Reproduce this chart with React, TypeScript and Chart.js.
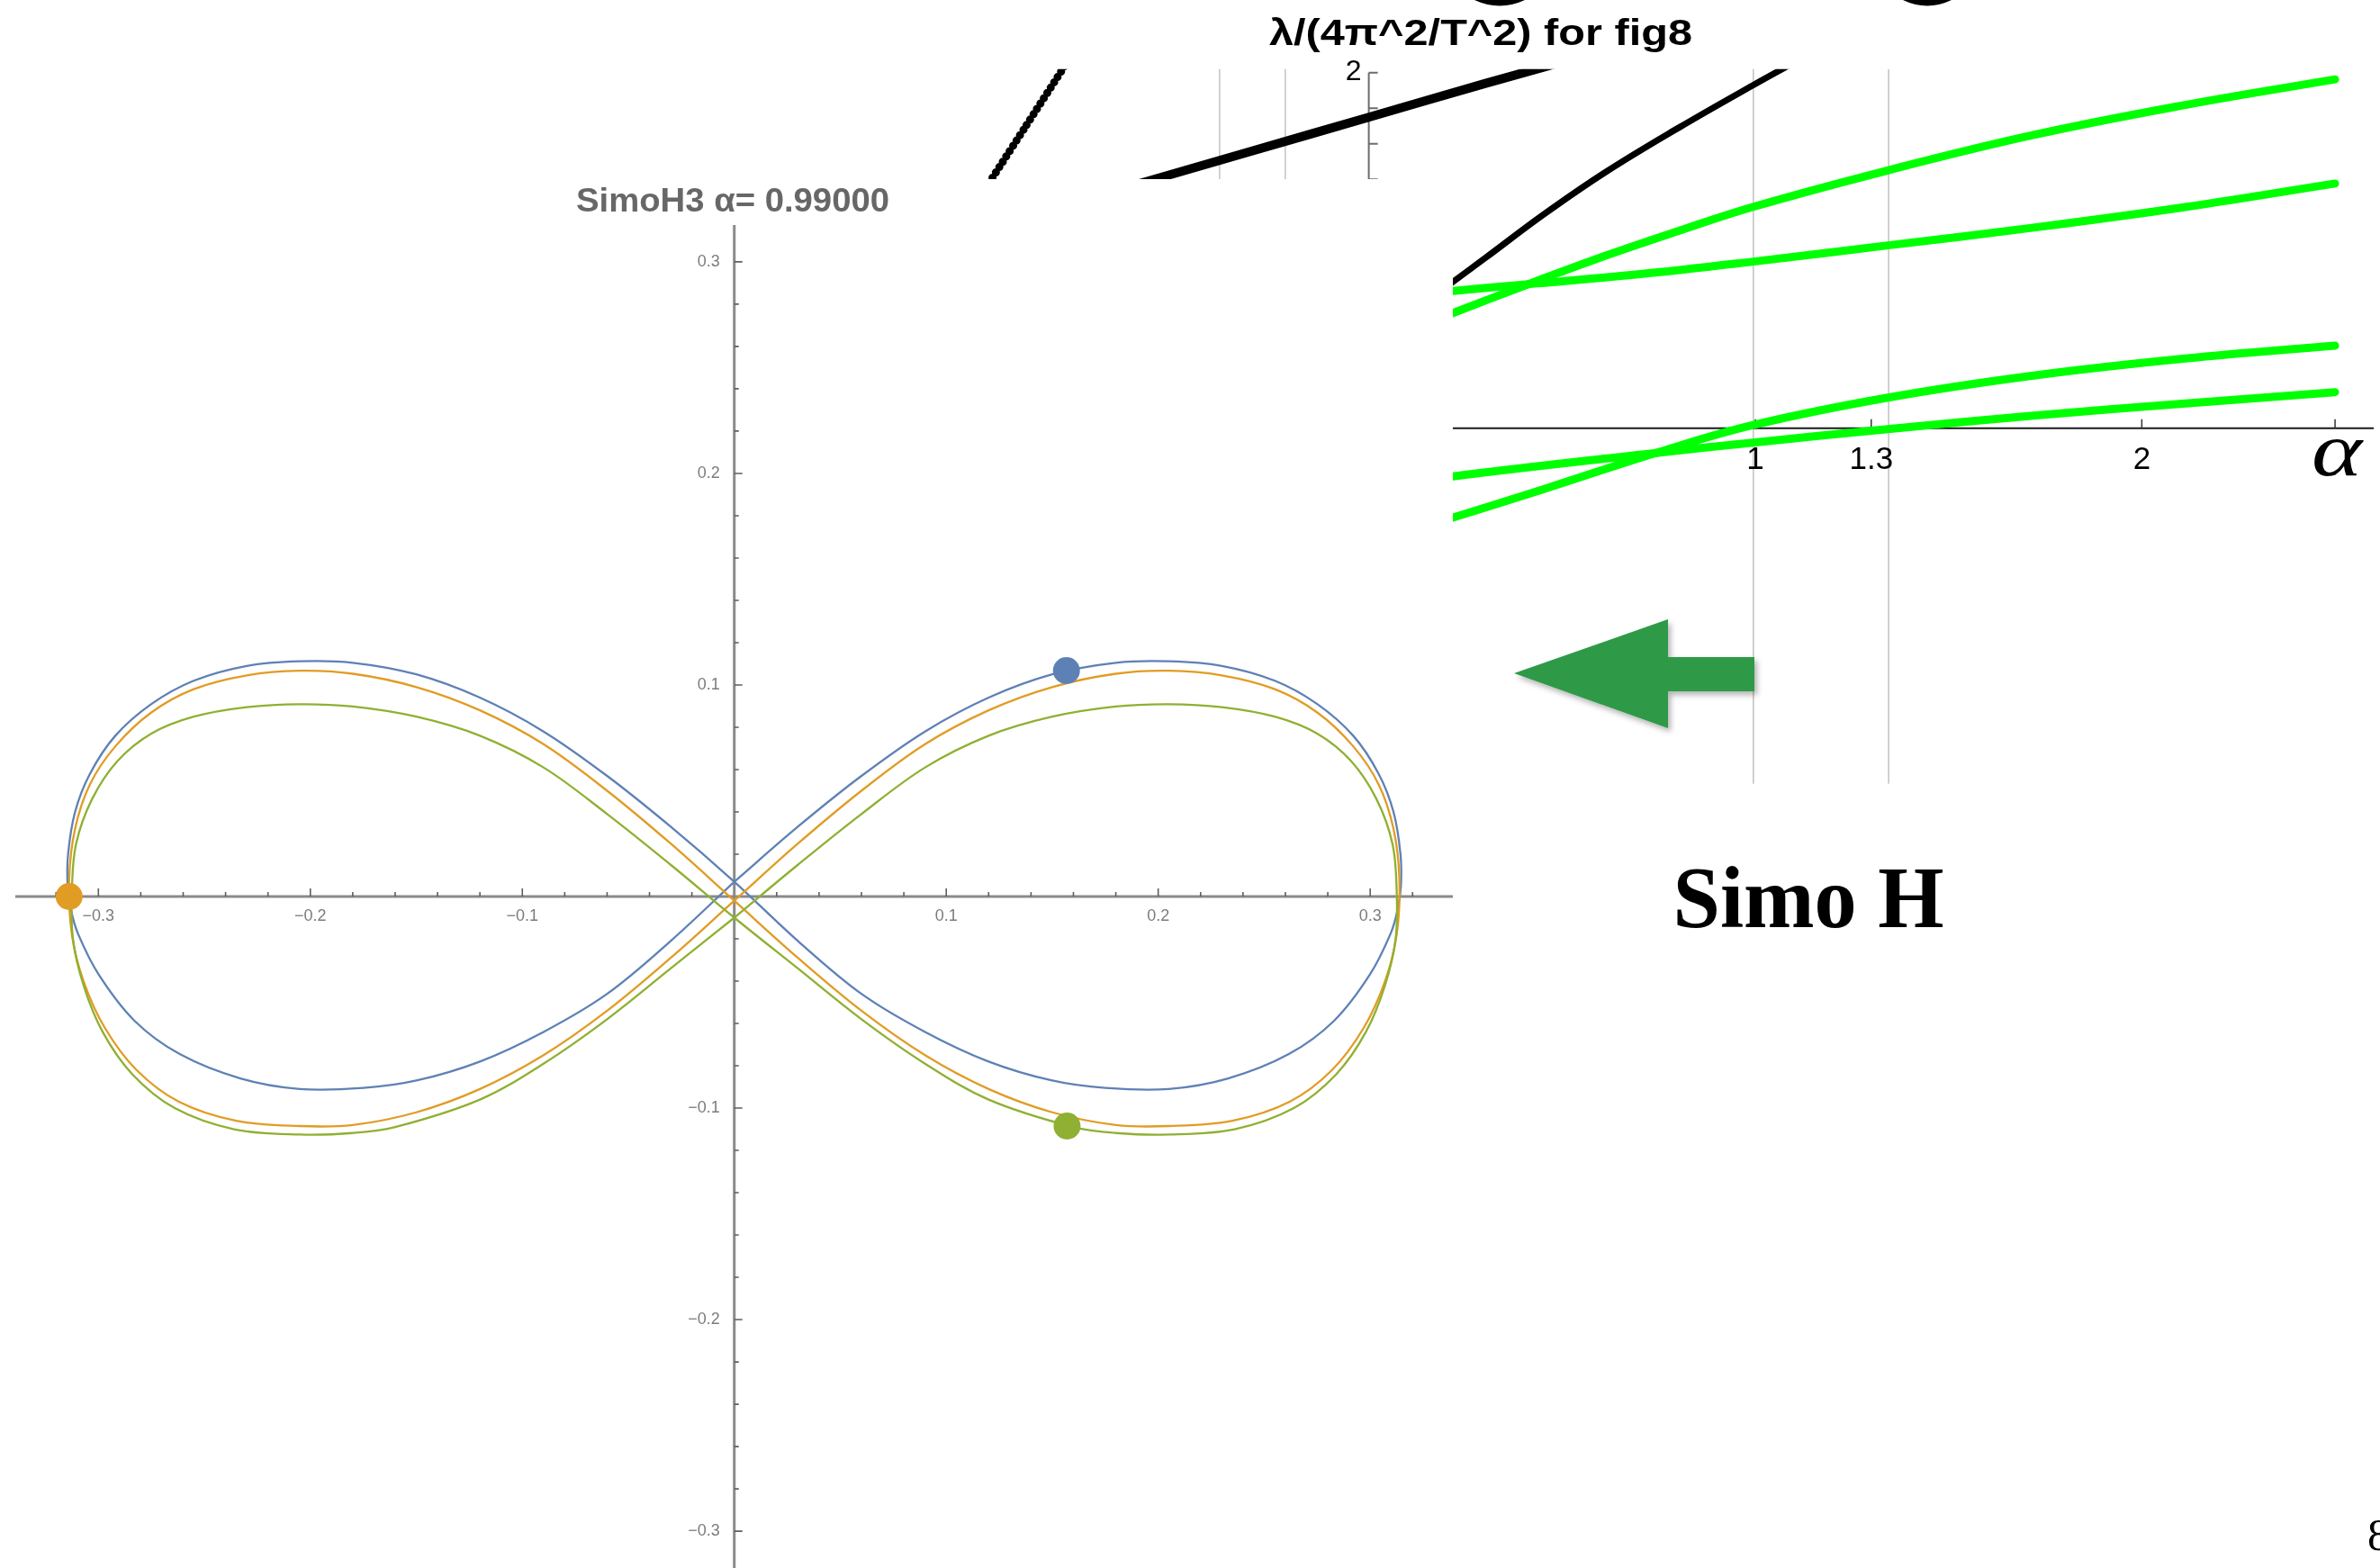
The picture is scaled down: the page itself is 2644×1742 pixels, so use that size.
import React, { useEffect, useRef } from "react";
import { Chart, registerables } from "chart.js";

Chart.register(...registerables);

type Pt = [number, number];

// ---------- SimoH3 figure-eight, α = 0.99 ----------
// Each track: upper-right branch, lower-right, upper-left, lower-left (closed loop)
const blueTrack: Pt[] = [
  [0, 0.007], [0.03, 0.033], [0.06, 0.057], [0.09, 0.078], [0.12, 0.094], [0.15, 0.105],
  [0.18, 0.1105], [0.205, 0.1112], [0.23, 0.109], [0.255, 0.102], [0.275, 0.091],
  [0.292, 0.076], [0.304, 0.058], [0.311, 0.04], [0.3143, 0.02], [0.3145, 0.005],
  [0.313, -0.006], [0.3097, -0.0174], [0.2998, -0.037], [0.283, -0.0587], [0.2616, -0.0745],
  [0.233, -0.086], [0.205, -0.091], [0.175, -0.0905], [0.15, -0.087], [0.12, -0.078],
  [0.09, -0.064], [0.06, -0.046], [0.03, -0.021], [0, 0.007],
  [-0.03, 0.033], [-0.06, 0.057], [-0.09, 0.078], [-0.12, 0.094], [-0.15, 0.105],
  [-0.18, 0.1105], [-0.205, 0.1112], [-0.23, 0.109], [-0.255, 0.102], [-0.275, 0.091],
  [-0.292, 0.076], [-0.304, 0.058], [-0.311, 0.04], [-0.3143, 0.02], [-0.3145, 0.005],
  [-0.313, -0.006], [-0.3097, -0.0174], [-0.2998, -0.037], [-0.283, -0.0587], [-0.2616, -0.0745],
  [-0.233, -0.086], [-0.205, -0.091], [-0.175, -0.0905], [-0.15, -0.087], [-0.12, -0.078],
  [-0.09, -0.064], [-0.06, -0.046], [-0.03, -0.021], [0, 0.007],
];

const orangeTrack: Pt[] = [
  [0, -0.002], [0.03, 0.025], [0.06, 0.05], [0.09, 0.072], [0.12, 0.088], [0.15, 0.099],
  [0.18, 0.1053], [0.205, 0.1067], [0.23, 0.1045], [0.255, 0.098], [0.275, 0.087],
  [0.292, 0.071], [0.304, 0.053], [0.311, 0.032], [0.3138, 0.008],
  [0.3125, -0.018], [0.307, -0.04], [0.297, -0.062], [0.282, -0.082], [0.262, -0.097],
  [0.235, -0.106], [0.205, -0.1085], [0.18, -0.108], [0.15, -0.102], [0.12, -0.091],
  [0.09, -0.075], [0.06, -0.054], [0.03, -0.029], [0, -0.002],
  [-0.03, 0.025], [-0.06, 0.05], [-0.09, 0.072], [-0.12, 0.088], [-0.15, 0.099],
  [-0.18, 0.1053], [-0.205, 0.1067], [-0.23, 0.1045], [-0.255, 0.098], [-0.275, 0.087],
  [-0.292, 0.071], [-0.304, 0.053], [-0.311, 0.032], [-0.3138, 0.008],
  [-0.3125, -0.018], [-0.307, -0.04], [-0.297, -0.062], [-0.282, -0.082], [-0.262, -0.097],
  [-0.235, -0.106], [-0.205, -0.1085], [-0.18, -0.108], [-0.15, -0.102], [-0.12, -0.091],
  [-0.09, -0.075], [-0.06, -0.054], [-0.03, -0.029], [0, -0.002],
];

const greenTrack: Pt[] = [
  [0, -0.01], [0.03, 0.015], [0.06, 0.039], [0.09, 0.061], [0.12, 0.076], [0.15, 0.085],
  [0.18, 0.0898], [0.205, 0.0909], [0.23, 0.0895], [0.255, 0.085], [0.275, 0.077],
  [0.291, 0.064], [0.303, 0.046], [0.3105, 0.025], [0.3125, 0.003],
  [0.312, -0.02], [0.307, -0.042], [0.298, -0.064], [0.284, -0.084], [0.264, -0.1],
  [0.236, -0.11], [0.205, -0.1125], [0.18, -0.1118], [0.16, -0.109], [0.12, -0.096],
  [0.09, -0.079], [0.06, -0.058], [0.03, -0.034], [0, -0.01],
  [-0.03, 0.015], [-0.06, 0.039], [-0.09, 0.061], [-0.12, 0.076], [-0.15, 0.085],
  [-0.18, 0.0898], [-0.205, 0.0909], [-0.23, 0.0895], [-0.255, 0.085], [-0.275, 0.077],
  [-0.291, 0.064], [-0.303, 0.046], [-0.3105, 0.025], [-0.3125, 0.003],
  [-0.312, -0.02], [-0.307, -0.042], [-0.298, -0.064], [-0.284, -0.084], [-0.264, -0.1],
  [-0.236, -0.11], [-0.205, -0.1125], [-0.18, -0.1118], [-0.16, -0.109], [-0.12, -0.096],
  [-0.09, -0.079], [-0.06, -0.058], [-0.03, -0.034], [0, -0.01],
];

const blueBody: Pt = [0.1567, 0.1068];
const orangeBody: Pt = [-0.3138, 0];
const greenBody: Pt = [0.157, -0.1085];

const orbitTickValues = [-0.3, -0.2, -0.1, 0.1, 0.2, 0.3];
const orbitTickLabels = ["−0.3", "−0.2", "−0.1", "0.1", "0.2", "0.3"];
const orbitMinorStep = 0.02;
const orbitTitle = "SimoH3 α= 0.99000";

// ---------- λ/(4π²/T²) branches against α ----------
const lambdaA: Pt[] = [
  [0.15, 0.59], [0.218, 0.648], [0.407, 0.805], [0.584, 0.948], [0.8, 1.108], [0.995, 1.245],
  [1.343, 1.45], [1.72, 1.649], [2.113, 1.818], [2.5, 1.962],
];
const lambdaB: Pt[] = [
  [0.15, 0.76], [0.218, 0.772], [0.407, 0.809], [0.691, 0.864], [0.995, 0.937],
  [1.343, 1.028], [1.72, 1.128], [2.113, 1.244], [2.5, 1.376],
];
const lambdaC: Pt[] = [
  [0.15, -0.55], [0.218, -0.503], [0.454, -0.342], [0.754, -0.132], [0.995, 0.018],
  [1.343, 0.172], [1.72, 0.296], [2.113, 0.392], [2.5, 0.464],
];
const lambdaD: Pt[] = [
  [0.15, -0.3], [0.218, -0.271], [0.754, -0.137], [0.995, -0.081], [1.343, -0.005],
  [1.72, 0.071], [2.113, 0.139], [2.5, 0.2025],
];
const lambdaBlack: Pt[] = [
  [0.15, 0.71], [0.2173, 0.822], [0.3, 0.955], [0.4544, 1.205], [0.6125, 1.44],
  [0.802, 1.69], [0.995, 1.93], [1.12, 2.08],
];
const lambdaBlackWide: Pt[] = [
  [-0.65, 1.34], [-0.3, 1.56], [0, 1.749], [0.3, 1.938], [0.6, 2.12],
];
const lambdaDotted: Pt[] = [
  [-1.0, 1.32], [-0.89, 1.69], [-0.78, 2.06],
];

const lambdaGridAlpha = [-0.386, -0.216, 0.995, 1.345];
const lambdaXTicks = [1, 1.3, 2, 2.5];
const lambdaXLabels = ["1", "1.3", "2", "..."];
const lambdaYTicks = [2, 1.8, 1.6, 1.4, 1.2];
const lambdaYLabels = ["2", "", "", "", ""];
const lambdaTitle = "λ/(4π^2/T^2) for fig8";

const SANS = '"Liberation Sans", Arial, Helvetica, sans-serif';
const SERIF = '"Liberation Serif", "Times New Roman", serif';

const toXY = (pts: Pt[]) => pts.map(([x, y]) => ({ x, y }));

function fitText(ctx: CanvasRenderingContext2D, text: string, cx: number, baseline: number, width: number) {
  const w = ctx.measureText(text).width;
  ctx.save();
  ctx.translate(cx, baseline);
  ctx.scale(width / w, 1);
  ctx.textAlign = "center";
  ctx.textBaseline = "alphabetic";
  ctx.fillText(text, 0, 0);
  ctx.restore();
}

const orbitDecor = {
  id: "orbitDecor",
  beforeDraw(chart: any) {
    const { ctx, width, height } = chart;
    ctx.save();
    ctx.fillStyle = "#ffffff";
    ctx.fillRect(0, 0, width, height);
    ctx.restore();
  },
  beforeDatasetsDraw(chart: any) {
    const { ctx, chartArea: a, scales } = chart;
    const xs = scales.x;
    const ys = scales.y;
    const x0 = xs.getPixelForValue(0);
    const y0 = ys.getPixelForValue(0);
    ctx.save();
    // axes
    ctx.strokeStyle = "#8a8a8a";
    ctx.lineWidth = 3;
    ctx.beginPath();
    ctx.moveTo(a.left, y0);
    ctx.lineTo(a.right, y0);
    ctx.moveTo(x0, a.top);
    ctx.lineTo(x0, a.bottom);
    ctx.stroke();
    // ticks (pointing inwards)
    ctx.strokeStyle = "#5f5f5f";
    ctx.lineWidth = 1.6;
    ctx.beginPath();
    for (let i = -16; i <= 16; i++) {
      if (i === 0) continue;
      const v = i * orbitMinorStep;
      const len = i % 5 === 0 ? 9 : 5;
      const px = xs.getPixelForValue(v);
      if (px >= a.left && px <= a.right) {
        ctx.moveTo(px, y0);
        ctx.lineTo(px, y0 - len);
      }
      const py = ys.getPixelForValue(v);
      if (py >= a.top && py <= a.bottom) {
        ctx.moveTo(x0, py);
        ctx.lineTo(x0 + len, py);
      }
    }
    ctx.stroke();
    // tick labels
    ctx.fillStyle = "#7c7c7c";
    ctx.font = `18px ${SANS}`;
    ctx.textBaseline = "middle";
    ctx.textAlign = "center";
    orbitTickValues.forEach((v, i) => {
      ctx.fillText(orbitTickLabels[i], xs.getPixelForValue(v), y0 + 22);
    });
    ctx.textAlign = "right";
    orbitTickValues.forEach((v, i) => {
      ctx.fillText(orbitTickLabels[i], x0 - 16, ys.getPixelForValue(v));
    });
    ctx.restore();
  },
  afterDraw(chart: any) {
    const { ctx } = chart;
    ctx.save();
    ctx.fillStyle = "#676767";
    ctx.font = `bold 36px ${SANS}`;
    fitText(ctx, orbitTitle, 814, 36, 348);
    ctx.restore();
  },
};

const lambdaDecor = {
  id: "lambdaDecor",
  beforeDatasetsDraw(chart: any) {
    const { ctx, chartArea: a, scales } = chart;
    const xs = scales.x;
    const ys = scales.y;
    ctx.save();
    // vertical grid lines
    ctx.strokeStyle = "#c2c2c2";
    ctx.lineWidth = 1.5;
    ctx.beginPath();
    lambdaGridAlpha.forEach((v) => {
      const px = xs.getPixelForValue(v);
      ctx.moveTo(px, a.top);
      ctx.lineTo(px, a.bottom);
    });
    ctx.stroke();
    // vertical axis at α = 0
    const ax = xs.getPixelForValue(0);
    ctx.strokeStyle = "#6c6c6c";
    ctx.lineWidth = 2;
    ctx.beginPath();
    ctx.moveTo(ax, ys.getPixelForValue(lambdaYTicks[0]));
    ctx.lineTo(ax, a.bottom);
    lambdaYTicks.forEach((v) => {
      const py = ys.getPixelForValue(v);
      ctx.moveTo(ax, py);
      ctx.lineTo(ax + 10, py);
    });
    ctx.stroke();
    ctx.fillStyle = "#000";
    ctx.font = `32px ${SANS}`;
    ctx.textAlign = "right";
    ctx.textBaseline = "middle";
    lambdaYTicks.forEach((v, i) => {
      if (lambdaYLabels[i]) ctx.fillText(lambdaYLabels[i], ax - 8, ys.getPixelForValue(v));
    });
    // horizontal axis
    const ay = ys.getPixelForValue(0);
    ctx.strokeStyle = "#1a1a1a";
    ctx.lineWidth = 2;
    ctx.beginPath();
    ctx.moveTo(a.left, ay);
    ctx.lineTo(a.right, ay);
    ctx.stroke();
    ctx.strokeStyle = "#333";
    ctx.lineWidth = 1.5;
    ctx.beginPath();
    lambdaXTicks.forEach((v) => {
      const px = xs.getPixelForValue(v);
      ctx.moveTo(px, ay);
      ctx.lineTo(px, ay - 10);
    });
    ctx.stroke();
    ctx.textAlign = "center";
    ctx.textBaseline = "alphabetic";
    lambdaXTicks.forEach((v, i) => {
      const label = lambdaXLabels[i];
      const px = xs.getPixelForValue(v);
      if (label === "...") {
        ctx.font = `20px ${SANS}`;
        ctx.fillStyle = "#333";
        ctx.fillText(label, px - 6, ay + 52);
      } else {
        ctx.font = `35px ${SANS}`;
        ctx.fillStyle = "#000";
        ctx.fillText(label, px, ay + 45);
      }
    });
    // axis label α
    ctx.fillStyle = "#000";
    ctx.font = `italic 84px ${SERIF}`;
    fitText(ctx, "α", xs.getPixelForValue(2.5) + 2, ay + 52, 56);
    ctx.restore();
  },
  afterDraw(chart: any) {
    const { ctx } = chart;
    ctx.save();
    ctx.fillStyle = "#000";
    ctx.font = `bold 40px ${SANS}`;
    fitText(ctx, lambdaTitle, 645, 50, 470);
    ctx.restore();
  },
};

export default function App() {
  const lambdaRef = useRef<HTMLCanvasElement>(null);
  const orbitRef = useRef<HTMLCanvasElement>(null);

  useEffect(() => {
    document.body.style.margin = "0";
    document.body.style.overflow = "hidden";
    const charts: Chart[] = [];

    const lambdaLine = (pts: Pt[], color: string, width: number, extra: any = {}) => ({
      data: toXY(pts),
      showLine: true,
      borderColor: color,
      backgroundColor: color,
      borderWidth: width,
      tension: 0.4,
      pointRadius: 0,
      borderCapStyle: "round",
      clip: 0,
      ...extra,
    });

    if (lambdaRef.current) {
      charts.push(
        new Chart(lambdaRef.current, {
          type: "scatter",
          data: {
            datasets: [
              lambdaLine(lambdaA, "#00ff00", 9),
              lambdaLine(lambdaB, "#00ff00", 9),
              lambdaLine(lambdaC, "#00ff00", 9),
              lambdaLine(lambdaD, "#00ff00", 9),
              lambdaLine(lambdaBlack, "#000000", 7, { borderCapStyle: "butt" }),
              lambdaLine(lambdaBlackWide, "#000000", 10, { borderCapStyle: "butt" }),
              lambdaLine(lambdaDotted, "#000000", 9, { borderDash: [0, 7], tension: 0.2 }),
            ] as any,
          },
          options: {
            animation: false,
            responsive: false,
            devicePixelRatio: 1,
            events: [],
            layout: { autoPadding: false, padding: { left: 48.3, right: 7, top: 76.7, bottom: 29.3 } },
            scales: {
              x: { type: "linear", min: -1.1, max: 2.6, display: false },
              y: { type: "linear", min: -2.0, max: 2.02, display: false },
            },
            plugins: { legend: { display: false }, tooltip: { enabled: false }, title: { display: false } },
          } as any,
          plugins: [lambdaDecor],
        })
      );
    }

    if (orbitRef.current) {
      const track = (pts: Pt[], color: string, order: number) => ({
        data: toXY(pts),
        showLine: true,
        borderColor: color,
        backgroundColor: color,
        borderWidth: 2.3,
        tension: 0.35,
        pointRadius: 0,
        order,
      });
      const body = (p: Pt, color: string) => ({
        data: toXY([p]),
        showLine: false,
        pointRadius: 15,
        pointBorderWidth: 0,
        pointBackgroundColor: color,
        backgroundColor: color,
        borderColor: color,
        order: 0,
      });
      charts.push(
        new Chart(orbitRef.current, {
          type: "scatter",
          data: {
            datasets: [
              track(blueTrack, "#5e81b5", 3),
              track(orangeTrack, "#e19c24", 2),
              track(greenTrack, "#8fb032", 1),
              body(blueBody, "#5e81b5"),
              body(orangeBody, "#e19c24"),
              body(greenBody, "#8fb032"),
            ] as any,
          },
          options: {
            animation: false,
            responsive: false,
            devicePixelRatio: 1,
            events: [],
            layout: { autoPadding: false, padding: { left: 17, right: 0, top: 51, bottom: 0 } },
            scales: {
              x: { type: "linear", min: -0.3392, max: 0.339, display: false },
              y: { type: "linear", min: -0.3174, max: 0.3174, display: false },
            },
            plugins: { legend: { display: false }, tooltip: { enabled: false }, title: { display: false } },
          } as any,
          plugins: [orbitDecor],
        })
      );
    }

    return () => charts.forEach((c) => c.destroy());
  }, []);

  return (
    <div
      style={{
        position: "absolute",
        left: 0,
        top: 0,
        width: 2644,
        height: 1742,
        overflow: "hidden",
        background: "#ffffff",
      }}
    >
      <canvas
        ref={lambdaRef}
        width={1644}
        height={900}
        style={{ position: "absolute", left: 1000, top: 0, display: "block" }}
      />
      <canvas
        ref={orbitRef}
        width={1614}
        height={1543}
        style={{ position: "absolute", left: 0, top: 199, display: "block" }}
      />
      <svg
        width={2644}
        height={1742}
        style={{ position: "absolute", left: 0, top: 0, pointerEvents: "none" }}
      >
        <defs>
          <filter id="arrowShadow" x="-20%" y="-30%" width="140%" height="160%">
            <feDropShadow dx="3" dy="4" stdDeviation="3" floodColor="#000" floodOpacity="0.3" />
          </filter>
        </defs>
        <path d="M1638 0 Q1666 13 1694 0 Z" fill="#000" />
        <path d="M2114 0 Q2141 13 2168 0 Z" fill="#000" />
        <polygon
          points="1682,748 1853,688 1853,730 1949,730 1949,768 1853,768 1853,809"
          fill="#2f9a46"
          filter="url(#arrowShadow)"
        />
        <text
          x={2009}
          y={1030}
          textAnchor="middle"
          fontFamily={SERIF}
          fontWeight="bold"
          fontSize={97}
          textLength={301}
          lengthAdjust="spacingAndGlyphs"
          fill="#000"
        >
          Simo H
        </text>
        <text x={2630} y={1722} fontFamily={SERIF} fontSize={50} fill="#000">
          8
        </text>
      </svg>
    </div>
  );
}
